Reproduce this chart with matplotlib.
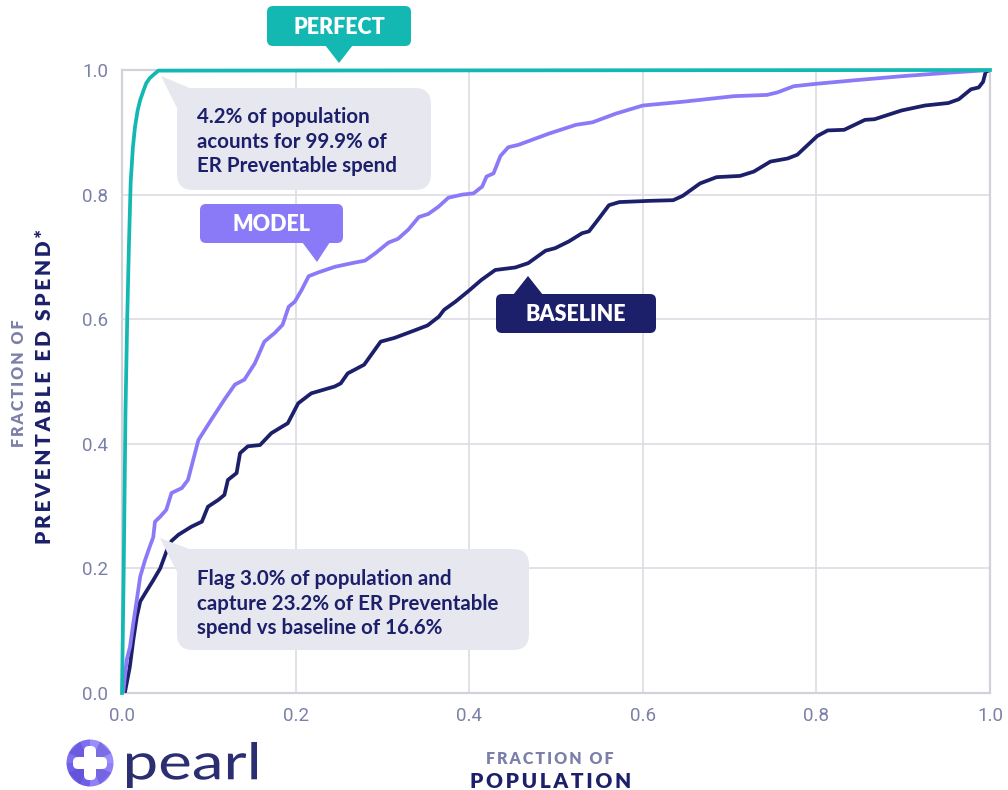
import matplotlib
matplotlib.use("Agg")
import matplotlib.pyplot as plt
from matplotlib.patches import FancyBboxPatch, Polygon, Wedge, PathPatch
from matplotlib.textpath import TextPath
from matplotlib.font_manager import FontProperties
from matplotlib.transforms import Affine2D
import numpy as np

# cumulative fraction of preventable ED spend captured vs fraction of population flagged
model_x = [0, 0.0015, 0.0054, 0.0092, 0.013, 0.017, 0.021, 0.0265, 0.032, 0.036, 0.038,
           0.044, 0.051, 0.057, 0.069, 0.076, 0.088, 0.103, 0.118, 0.130, 0.141, 0.153,
           0.164, 0.176, 0.185, 0.192, 0.199, 0.207, 0.215, 0.226, 0.245, 0.265, 0.280,
           0.292, 0.307, 0.318, 0.330, 0.342, 0.353, 0.365, 0.376, 0.392, 0.405, 0.415,
           0.420, 0.428, 0.436, 0.445, 0.457, 0.492, 0.523, 0.542, 0.569, 0.600, 0.646,
           0.705, 0.743, 0.755, 0.774, 0.801, 0.840, 0.898, 0.956, 1.0]
model_y = [0, 0.002, 0.053, 0.074, 0.112, 0.149, 0.187, 0.213, 0.235, 0.250, 0.275,
           0.283, 0.294, 0.321, 0.329, 0.342, 0.406, 0.439, 0.471, 0.495, 0.503, 0.529,
           0.564, 0.578, 0.591, 0.620, 0.628, 0.647, 0.669, 0.675, 0.684, 0.690, 0.694,
           0.706, 0.723, 0.729, 0.744, 0.764, 0.769, 0.781, 0.795, 0.800, 0.802, 0.813,
           0.829, 0.834, 0.862, 0.876, 0.880, 0.898, 0.912, 0.916, 0.930, 0.943, 0.949,
           0.958, 0.960, 0.964, 0.974, 0.978, 0.983, 0.990, 0.996, 1.0]

baseline_x = [0, 0.0035, 0.009, 0.013, 0.017, 0.021, 0.028, 0.036, 0.044, 0.052, 0.057,
              0.065, 0.080, 0.092, 0.099, 0.111, 0.118, 0.122, 0.132, 0.136, 0.145, 0.159,
              0.172, 0.185, 0.191, 0.203, 0.218, 0.245, 0.252, 0.260, 0.279, 0.298, 0.314,
              0.337, 0.352, 0.365, 0.371, 0.384, 0.399, 0.414, 0.430, 0.453, 0.468, 0.488,
              0.499, 0.515, 0.530, 0.538, 0.548, 0.561, 0.573, 0.608, 0.635, 0.646, 0.666,
              0.685, 0.712, 0.728, 0.747, 0.767, 0.778, 0.801, 0.813, 0.832, 0.856, 0.867,
              0.898, 0.925, 0.952, 0.964, 0.978, 0.987, 0.992, 0.995, 1.0]
baseline_y = [0, 0.002, 0.042, 0.085, 0.122, 0.147, 0.163, 0.181, 0.200, 0.230, 0.244,
              0.254, 0.267, 0.275, 0.299, 0.310, 0.318, 0.342, 0.353, 0.385, 0.396, 0.398,
              0.417, 0.428, 0.433, 0.465, 0.481, 0.492, 0.497, 0.513, 0.527, 0.564, 0.570,
              0.582, 0.590, 0.604, 0.615, 0.628, 0.645, 0.663, 0.679, 0.683, 0.690, 0.710,
              0.714, 0.725, 0.738, 0.741, 0.759, 0.783, 0.788, 0.790, 0.791, 0.798, 0.818,
              0.828, 0.830, 0.837, 0.853, 0.858, 0.864, 0.894, 0.903, 0.904, 0.920, 0.921,
              0.935, 0.943, 0.947, 0.953, 0.969, 0.972, 0.981, 0.997, 1.0]

perfect_x = [0, 0.002, 0.004, 0.006, 0.008, 0.010, 0.0125, 0.015, 0.018, 0.021, 0.025,
             0.028, 0.032, 0.036, 0.042, 1.0]
perfect_y = [0, 0.20, 0.45, 0.60, 0.72, 0.82, 0.875, 0.909, 0.935, 0.952, 0.968,
             0.979, 0.987, 0.992, 0.999, 1.0]

ticks = [0.0, 0.2, 0.4, 0.6, 0.8, 1.0]
tick_labels = ["0.0", "0.2", "0.4", "0.6", "0.8", "1.0"]

TEAL = "#14B8B3"
PURPLE = "#8A7AF7"
NAVY = "#1C1F6A"
CALLOUT = "#E7E7EF"
MUTED = "#7C80A8"
GRID = "#DCDCE3"

W, H = 1008, 790
fig = plt.figure(figsize=(W / 100, H / 100), dpi=100)
fig.patch.set_facecolor("white")

ax = fig.add_axes([122 / W, 1 - 693 / H, 868 / W, 623 / H])
ax.set_xlim(0, 1)
ax.set_ylim(0, 1)
ax.grid(True, color=GRID, lw=1.2)
ax.set_axisbelow(True)
for s in ax.spines.values():
    s.set_color("#D2D2DA")
    s.set_linewidth(1.6)
ax.set_xticks(ticks)
ax.set_yticks(ticks)
ax.set_xticklabels(tick_labels)
ax.set_yticklabels(tick_labels)
ax.tick_params(length=0, labelsize=13.5, labelcolor=MUTED, pad=10)
for lab in ax.get_xticklabels() + ax.get_yticklabels():
    lab.set_family("Roboto")

ax.plot(baseline_x, baseline_y, color=NAVY, lw=2.7, solid_joinstyle="round",
        solid_capstyle="round", zorder=3)
ax.plot(model_x, model_y, color=PURPLE, lw=2.7, solid_joinstyle="round",
        solid_capstyle="round", zorder=4)
ax.plot(perfect_x, perfect_y, color=TEAL, lw=2.7, solid_joinstyle="round",
        clip_on=False, zorder=5)

# overlay in pixel units for callouts, labels and logo
ov = fig.add_axes([0, 0, 1, 1], zorder=10)
ov.set_xlim(0, W)
ov.set_ylim(H, 0)
ov.axis("off")
ov.patch.set_alpha(0)


def spaced(s, gap="\u2009"):
    return gap.join(s)


def tag(x0, y0, x1, y1, pointer, color, text, rad=6):
    ov.add_patch(FancyBboxPatch((x0, y0), x1 - x0, y1 - y0,
                                boxstyle=f"round,pad=0,rounding_size={rad}",
                                fc=color, ec="none"))
    ov.add_patch(Polygon(pointer, closed=True, fc=color, ec="none"))
    ov.text((x0 + x1) / 2, (y0 + y1) / 2 + 1, text, color="white", fontsize=15.5,
            fontweight="heavy", family="Lato", ha="center", va="center")


tag(267, 6, 411, 46, [(325, 45), (353, 45), (339, 63)], TEAL, "PERFECT")
tag(200, 204, 343, 243, [(302, 242), (330, 242), (317, 262)], PURPLE, "MODEL")
tag(496, 294, 656, 333, [(513, 295), (543, 295), (528, 276)], NAVY, "BASELINE")


def bubble(x0, y0, x1, y1, pointer, lines, tx, ty):
    ov.add_patch(FancyBboxPatch((x0, y0), x1 - x0, y1 - y0,
                                boxstyle="round,pad=0,rounding_size=16",
                                fc=CALLOUT, ec="none"))
    ov.add_patch(Polygon(pointer, closed=True, fc=CALLOUT, ec="none"))
    for i, line in enumerate(lines):
        ov.text(tx, ty + 24.5 * i, line, color=NAVY, fontsize=14.8, fontweight="bold",
                family="Lato", ha="left", va="center")


bubble(177, 88, 431, 190, [(161, 76), (177, 108), (192, 89)],
       ["4.2% of population", "acounts for 99.9% of", "ER Preventable spend"], 197, 117)
bubble(177, 549, 529, 650, [(160, 538), (177, 572), (192, 550)],
       ["Flag 3.0% of population and", "capture 23.2% of ER Preventable",
        "spend vs baseline of 16.6%"], 197, 579)

# axis titles
ttl = dict(fontweight="heavy", family=["Lato", "DejaVu Sans"], ha="center", va="center")
ov.text(19, 383, spaced("FRACTION OF"), rotation=90, color=MUTED, fontsize=11.5, **ttl)
ov.text(45, 387, spaced("PREVENTABLE ED SPEND*"), rotation=90, color=NAVY,
        fontsize=15, **ttl)
ov.text(550, 759, spaced("FRACTION OF"), color=MUTED, fontsize=11.5, **ttl)
ov.text(551, 781, spaced("POPULATION"), color=NAVY, fontsize=15, **ttl)

# logo mark
cx, cy, r = 90, 763, 23.5
quad_colors = ["#8F80F8", "#6F60EA", "#7D6EF2", "#9B8DFA"]
for k, c in enumerate(quad_colors):
    ov.add_patch(Wedge((cx, cy), r, 90 * k, 90 * (k + 1), fc=c, ec="none"))
for ang in [45, 135, 225, 315]:
    t = np.deg2rad(ang)
    ov.add_patch(Polygon([(cx, cy), (cx + r * np.cos(t - 0.35), cy - r * np.sin(t - 0.35)),
                          (cx + r * np.cos(t + 0.35), cy - r * np.sin(t + 0.35))],
                         fc="#5546C8", ec="none", alpha=0.45))
ov.add_patch(FancyBboxPatch((cx - 6, cy - 17), 12, 34, boxstyle="round,pad=0,rounding_size=5",
                            fc="white", ec="none"))
ov.add_patch(FancyBboxPatch((cx - 17, cy - 6), 34, 12, boxstyle="round,pad=0,rounding_size=5",
                            fc="white", ec="none"))

# wordmark, stretched to fill its box
tp = TextPath((0, 0), "pearl", size=1, prop=FontProperties(family="Lato"))
ext = tp.get_extents()
lx0, ly0, lx1, ly1 = 127, 742, 257, 788
sx = (lx1 - lx0) / ext.width
sy = (ly1 - ly0) / ext.height
tr = Affine2D().translate(-ext.x0, -ext.y1).scale(sx, -sy).translate(lx0, ly0)
ov.add_patch(PathPatch(tr.transform_path(tp), fc="#2B2E70", ec="none"))

fig.savefig("out.png", dpi=100, facecolor="white")
